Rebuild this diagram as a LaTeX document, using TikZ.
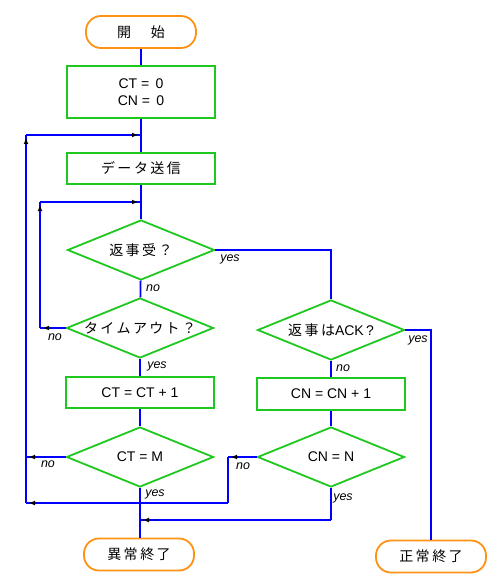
\documentclass[tikz,border=0pt]{standalone}
\usepackage{fontspec}
\setmainfont{Liberation Sans}
\newfontfamily\jp{Noto Sans CJK JP}
\usetikzlibrary{shapes.geometric,arrows.meta,decorations.markings}

\definecolor{boxgreen}{RGB}{30,200,30}
\definecolor{termorange}{RGB}{255,145,20}
\definecolor{flowblue}{RGB}{0,0,255}
\newcommand{\gp}{\hspace{2.5pt}}

\begin{document}
\begin{tikzpicture}[x=1pt,y=-1pt,font=\fontsize{14}{17}\selectfont,
  proc/.style={draw=boxgreen, line width=1.8pt, minimum width=148pt, minimum height=31pt, inner sep=0pt},
  cond/.style={draw=boxgreen, diamond, aspect=2.45, line width=1.8pt, minimum width=147pt, minimum height=60pt, inner sep=0pt},
  term/.style={draw=termorange, line width=1.8pt, rounded corners=15pt, minimum width=110pt, minimum height=32pt, inner sep=0pt},
  link/.style={draw=flowblue, line width=1.8pt},
  flow/.style={link, postaction={decorate}, decoration={markings, mark=at position -3pt with {\arrow[black]{Latex[length=6pt,width=5pt]}}}},
  lab/.style={font=\itshape\fontsize{12.5}{12}\selectfont, inner sep=0pt}]
\useasboundingbox (0,0) rectangle (500,588);

\node[term] (start) at (141,32) {\jp 開\hspace{20pt}始};
\node[proc, minimum height=52pt, align=center] (init) at (141,92) {CT = \,0\\CN = \,0};
\node[proc] (send) at (141,168.5) {\jp デ\gp ー\gp タ\gp 送\gp 信};
\node[cond] (recv) at (141,250) {\jp 返\gp 事\gp 受\gp ？};
\node[cond] (tout) at (140,328) {\jp タ\,イ\,ム\,ア\,ウ\,ト\,？};
\node[proc] (ctinc) at (140,392.5) {CT = CT + 1};
\node[cond] (ctm) at (140,457) {CT = M};
\node[term] (abend) at (139,554.5) {\jp 異\gp 常\gp 終\gp 了};
\node[cond] (ack) at (331,330) {{\jp 返\gp 事\gp は}ACK\,?};
\node[proc, minimum height=32pt] (cninc) at (331,394) {CN = CN + 1};
\node[cond] (cnn) at (331,457) {CN = N};
\node[term] (okend) at (431,556.5) {\jp 正\gp 常\gp 終\gp 了};

\coordinate (j1) at (141,135);
\coordinate (j2) at (141,202);
\coordinate (j3) at (140,520);
\coordinate (k1) at (40,328);
\coordinate (k2) at (40,202);
\coordinate (m1) at (26,457);
\coordinate (n1) at (228,457);
\coordinate (n2) at (228,503);
\coordinate (n3) at (26,503);
\coordinate (n4) at (26,135);
\coordinate (p1) at (331,520);

\draw[link] (start) -- (init);
\draw[link] (init) -- (send);
\draw[link] (send) -- (recv);
\draw[link] (recv) -- (tout);
\draw[link] (tout) -- (ctinc);
\draw[link] (ctinc) -- (ctm);
\draw[link] (ctm.south) -- (ctm.south |- abend.north);
\draw[link] (recv.east) -| (ack.north);
\draw[link] (ack.east) -| (okend.north);
\draw[link] (ack) -- (cninc);
\draw[link] (cninc) -- (cnn);

\draw[flow] (tout.west) -- (k1);
\draw[flow] (k1) -- (k2);
\draw[flow] (k2) -- (j2);
\draw[flow] (ctm.west) -- (m1);
\draw[flow] (cnn.west) -- (n1);
\draw[link] (n1) -- (n2);
\draw[flow] (n2) -- (n3);
\draw[flow] (n3) -- (n4);
\draw[flow] (n4) -- (j1);
\draw[link] (cnn.south) -- (p1);
\draw[flow] (p1) -- (j3);

\node[lab] (recvyes) at (230,259) {yes};
\node[lab] (recvno) at (153,288) {no};
\node[lab] (toutno) at (55,337) {no};
\node[lab] (toutyes) at (157,366) {yes};
\node[lab] (ctmno) at (48,464) {no};
\node[lab] (ctmyes) at (155,494) {yes};
\node[lab] (ackno) at (343,368) {no};
\node[lab] (ackyes) at (418,340) {yes};
\node[lab] (cnnno) at (243,466) {no};
\node[lab] (cnnyes) at (343,498) {yes};
\end{tikzpicture}
\end{document}
